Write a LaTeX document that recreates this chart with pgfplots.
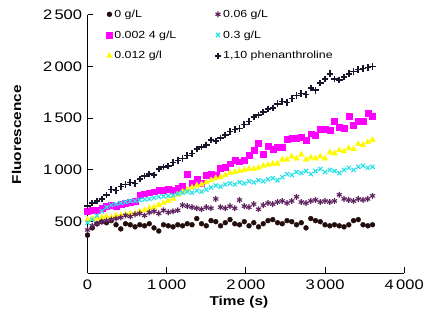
\documentclass[border=0pt]{standalone}
\usepackage{pgfplots}
\pgfplotsset{compat=1.18}
\usepackage{fontspec}
\setmainfont{Liberation Sans}[FakeStretch=1.2]
\definecolor{cZero}{RGB}{35,12,12}
\definecolor{cMag}{RGB}{255,0,255}
\definecolor{cYel}{RGB}{255,250,0}
\definecolor{cPur}{RGB}{95,35,95}
\definecolor{cCya}{RGB}{40,225,230}
\definecolor{cPhe}{RGB}{22,22,45}
\begin{document}
\begin{tikzpicture}
\begin{axis}[
  scale only axis,
  width=322pt, height=263pt,
  xmin=0, xmax=4000, ymin=0, ymax=2500,
  axis lines*=left,
  axis line style={line width=1.3pt},
  tick align=inside,
  major tick length=6pt,
  tick style={line width=1pt, black},
  xtick={0,1000,2000,3000,4000},
  ytick={500,1000,1500,2000,2500},
  /pgf/number format/assume math mode=true,
  /pgf/number format/1000 sep={\,},
  ticklabel style={font=\fontsize{14}{14}\selectfont},
  xticklabel style={yshift=-3pt},
  yticklabel style={xshift=-2pt},
  xlabel={\textbf{Time (s)}},
  ylabel={\textbf{Fluorescence}},
  label style={font=\fontsize{13}{13}\selectfont},
  xlabel style={at={(axis description cs:0.478,-0.11)},anchor=center},
  ylabel style={at={(axis description cs:-0.224,0.536)},anchor=center},
  legend columns=3,
  transpose legend,
  legend style={draw=none, fill=none, at={(rel axis cs:0.05,1.035)}, anchor=north west,
    font=\fontsize{10.5}{10.5}\selectfont, row sep=8pt,
    /tikz/every even column/.append style={column sep=37pt}},
  legend cell align=left,
  clip=false,
]
\addplot[only marks, mark=*, mark size=2.5pt, color=cZero] coordinates {
(0,370)(60,440)(120,480)(180,500)(240,490)(300,510)(360,470)(420,430)(480,480)(540,470)
(600,450)(660,470)(720,460)(780,480)(840,440)(900,410)(960,470)(1020,460)(1080,450)(1140,470)
(1200,460)(1260,480)(1320,470)(1380,530)(1440,480)(1500,460)(1560,510)(1620,500)(1680,460)(1740,490)
(1800,520)(1860,480)(1920,470)(1980,500)(2040,460)(2100,490)(2160,450)(2220,480)(2280,510)(2340,520)
(2400,490)(2460,480)(2520,510)(2580,500)(2640,470)(2700,490)(2760,440)(2820,530)(2880,510)(2940,500)
(3000,470)(3060,460)(3120,470)(3180,460)(3240,450)(3300,470)(3360,510)(3420,520)(3480,470)(3540,460)(3600,470)
};
\addlegendentry{0 g/L}
\addplot[only marks, mark=square*, mark size=3pt, color=cMag] coordinates {
(0,600)(60,610)(120,615)(180,630)(240,650)(300,660)(360,650)(420,670)(480,680)(540,690)
(600,700)(660,760)(720,770)(780,780)(840,790)(900,800)(960,800)(1020,810)(1080,800)(1140,820)
(1200,840)(1260,960)(1320,870)(1380,910)(1440,870)(1500,950)(1560,960)(1620,950)(1680,1020)(1740,1030)
(1800,1060)(1860,1090)(1920,1080)(1980,1090)(2040,1140)(2100,1190)(2160,1260)(2220,1150)(2280,1230)(2340,1200)
(2400,1220)(2460,1220)(2520,1300)(2580,1310)(2640,1310)(2700,1320)(2760,1290)(2820,1350)(2880,1340)(2940,1390)
(3000,1390)(3060,1380)(3120,1470)(3180,1410)(3240,1400)(3300,1520)(3360,1430)(3420,1470)(3480,1470)(3540,1550)(3600,1520)
};
\addlegendentry{0.002 4 g/L}
\addplot[only marks, mark=triangle*, mark size=3.4pt, color=cYel] coordinates {
(0,520)(60,530)(120,530)(180,540)(240,550)(300,540)(360,560)(420,560)(480,570)(540,575)
(600,580)(660,600)(720,610)(780,630)(840,640)(900,660)(960,680)(1020,700)(1080,720)(1140,760)
(1200,790)(1260,810)(1320,830)(1380,850)(1440,860)(1500,880)(1560,900)(1620,920)(1680,930)(1740,950)
(1800,970)(1860,980)(1920,990)(1980,1000)(2040,1010)(2100,1010)(2160,1020)(2220,1040)(2280,1050)(2340,1060)
(2400,1060)(2460,1100)(2520,1100)(2580,1130)(2640,1110)(2700,1150)(2760,1100)(2820,1120)(2880,1110)(2940,1130)
(3000,1110)(3060,1170)(3120,1160)(3180,1190)(3240,1180)(3300,1210)(3360,1200)(3420,1250)(3480,1240)(3540,1270)(3600,1290)
};
\addlegendentry{0.012 g/l}
\addplot[only marks, mark=asterisk, mark size=3pt, color=cPur, line width=1.1pt] coordinates {
(0,420)(60,460)(120,480)(180,500)(240,510)(300,520)(360,530)(420,540)(480,560)(540,550)
(600,570)(660,580)(720,560)(780,590)(840,600)(900,580)(960,610)(1020,590)(1080,600)(1140,610)
(1200,660)(1260,650)(1320,640)(1380,630)(1440,620)(1500,640)(1560,630)(1620,720)(1680,640)(1740,630)
(1800,650)(1860,630)(1920,710)(1980,650)(2040,640)(2100,670)(2160,620)(2220,660)(2280,680)(2340,670)
(2400,690)(2460,700)(2520,680)(2580,700)(2640,740)(2700,690)(2760,680)(2820,700)(2880,710)(2940,690)
(3000,700)(3060,690)(3120,700)(3180,760)(3240,720)(3300,710)(3360,700)(3420,720)(3480,710)(3540,720)(3600,750)
};
\addlegendentry{0.06 g/L}
\addplot[only marks, mark=x, mark size=3pt, color=cCya, line width=1.2pt] coordinates {
(0,490)(60,520)(120,560)(180,600)(240,640)(300,660)(360,670)(420,680)(480,690)(540,700)
(600,700)(660,710)(720,715)(780,720)(840,730)(900,740)(960,745)(1020,750)(1080,755)(1140,770)
(1200,780)(1260,790)(1320,780)(1380,800)(1440,790)(1500,810)(1560,830)(1620,850)(1680,840)(1740,860)
(1800,870)(1860,860)(1920,880)(1980,870)(2040,890)(2100,880)(2160,900)(2220,890)(2280,910)(2340,920)
(2400,900)(2460,930)(2520,960)(2580,950)(2640,980)(2700,970)(2760,990)(2820,960)(2880,990)(2940,1010)
(3000,980)(3060,1000)(3120,990)(3180,970)(3240,1000)(3300,1020)(3360,1000)(3420,1030)(3480,1040)(3540,1020)(3600,1030)
};
\addlegendentry{0.3 g/L}
\addplot[only marks, mark=+, mark size=3.3pt, color=cPhe, line width=1.6pt] coordinates {
(0,650)(60,680)(120,700)(180,720)(240,760)(300,810)(360,800)(420,840)(480,860)(540,880)
(600,870)(660,910)(720,940)(780,960)(840,950)(900,1010)(960,1030)(1020,1040)(1080,1070)(1140,1090)
(1200,1110)(1260,1140)(1320,1160)(1380,1200)(1440,1220)(1500,1240)(1560,1290)(1620,1280)(1680,1310)(1740,1340)
(1800,1370)(1860,1390)(1920,1400)(1980,1440)(2040,1470)(2100,1510)(2160,1530)(2220,1560)(2280,1590)(2340,1600)
(2400,1640)(2460,1660)(2520,1650)(2580,1690)(2640,1720)(2700,1740)(2760,1730)(2820,1790)(2880,1770)(2940,1840)
(3000,1880)(3060,1930)(3120,1880)(3180,1870)(3240,1900)(3300,1930)(3360,1950)(3420,1970)(3480,1980)(3540,1990)(3600,2000)
};
\addlegendentry{1,10 phenanthroline}
\end{axis}
\path (current axis.south west) ++(-89pt,-51pt) rectangle ++(427pt,329pt);
\end{tikzpicture}
\end{document}
